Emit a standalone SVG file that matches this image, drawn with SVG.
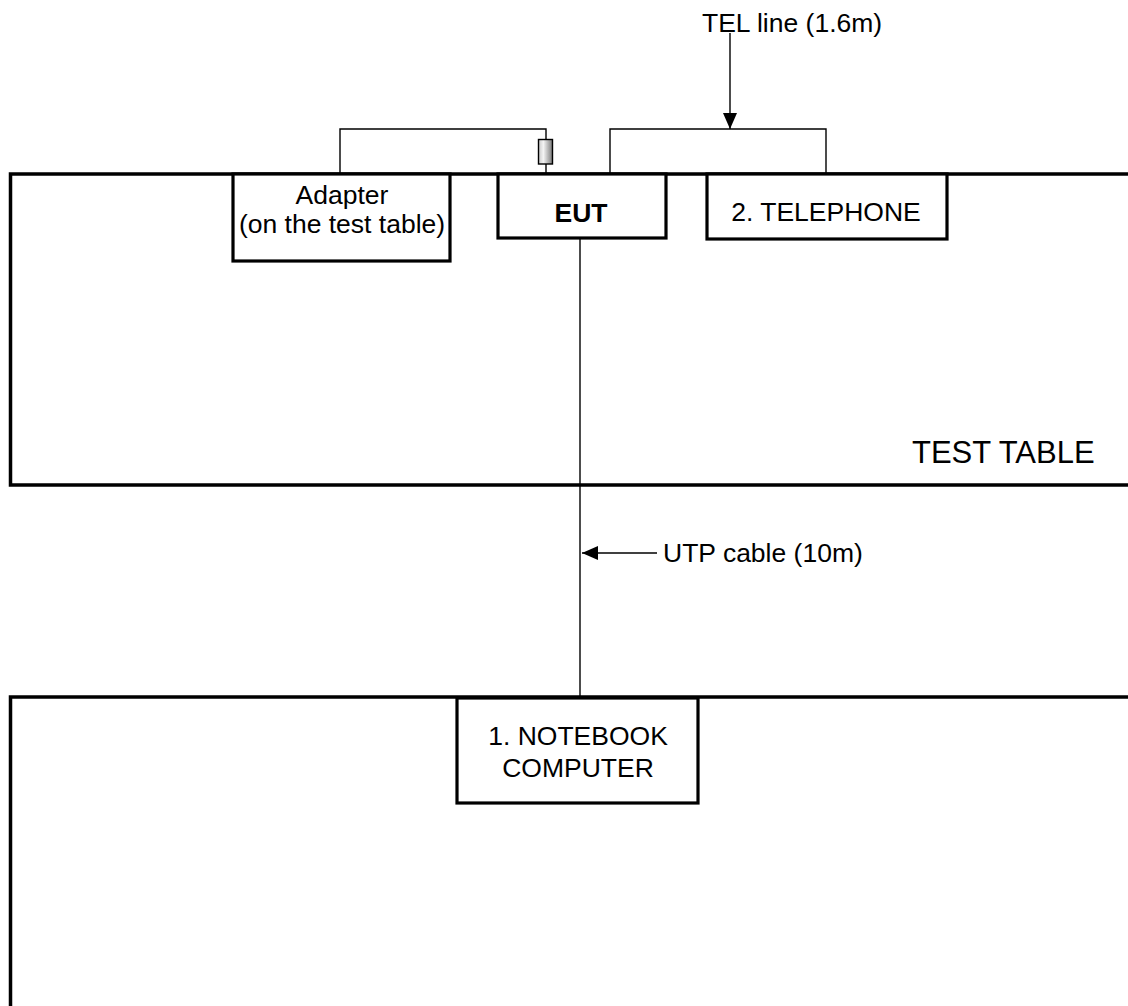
<svg xmlns="http://www.w3.org/2000/svg" width="1128" height="1006" viewBox="0 0 1128 1006">
<style>
.tbl{fill:none;stroke:#000;stroke-width:3.5}
.box{fill:#fff;stroke:#000;stroke-width:3.2}
.cab{fill:none;stroke:#000;stroke-width:1.4}
text{font-family:"Liberation Sans",Arial,sans-serif;font-size:26.5px;fill:#000}
.c{text-anchor:middle}
</style>
<defs>
<marker id="ah" viewBox="0 0 16 14" refX="16" refY="7" markerWidth="16" markerHeight="14" markerUnits="userSpaceOnUse" orient="auto">
<path d="M0,0 L16,7 L0,14 Z" fill="#000"/>
</marker>
<linearGradient id="plug" x1="0" y1="0" x2="1" y2="0">
<stop offset="0" stop-color="#c8c8c8"/>
<stop offset="0.35" stop-color="#f4f4f4"/>
<stop offset="1" stop-color="#7a7a7a"/>
</linearGradient>
</defs>
<g id="test-table">
<path class="tbl" d="M1132,174 H10.5 V485 H1132"/>
<text x="912" y="463" style="font-size:31px">TEST TABLE</text>
</g>
<g id="lower-table">
<path class="tbl" d="M1132,697 H10.5 V1010"/>
</g>
<g id="connectors">
<path class="cab" d="M340,174 V129 H546 V174"/>
<path class="cab" d="M610,174 V129 H826 V174"/>
<path class="cab" d="M730,33 V129" marker-end="url(#ah)"/>
<path class="cab" d="M580,238 V697"/>
<path class="cab" d="M657,553 H582" marker-end="url(#ah)"/>
<rect x="538.5" y="139.5" width="14" height="24.5" fill="url(#plug)" stroke="#000" stroke-width="1.4"/>
</g>
<g id="adapter">
<rect class="box" x="233" y="174" width="217" height="87"/>
<text class="c" x="342" y="204">Adapter</text>
<text class="c" x="342" y="233">(on the test table)</text>
</g>
<g id="eut">
<rect class="box" x="498" y="174" width="168" height="64"/>
<text class="c" x="581" y="222" style="font-weight:bold">EUT</text>
</g>
<g id="telephone">
<rect class="box" x="707" y="174" width="240" height="65"/>
<text class="c" x="826" y="221">2. TELEPHONE</text>
</g>
<g id="notebook">
<rect class="box" x="457" y="698" width="241" height="105"/>
<text class="c" x="578" y="745">1. NOTEBOOK</text>
<text class="c" x="578" y="777">COMPUTER</text>
</g>
<g id="labels">
<text x="702" y="32">TEL line (1.6m)</text>
<text x="663" y="562">UTP cable (10m)</text>
</g>
</svg>
